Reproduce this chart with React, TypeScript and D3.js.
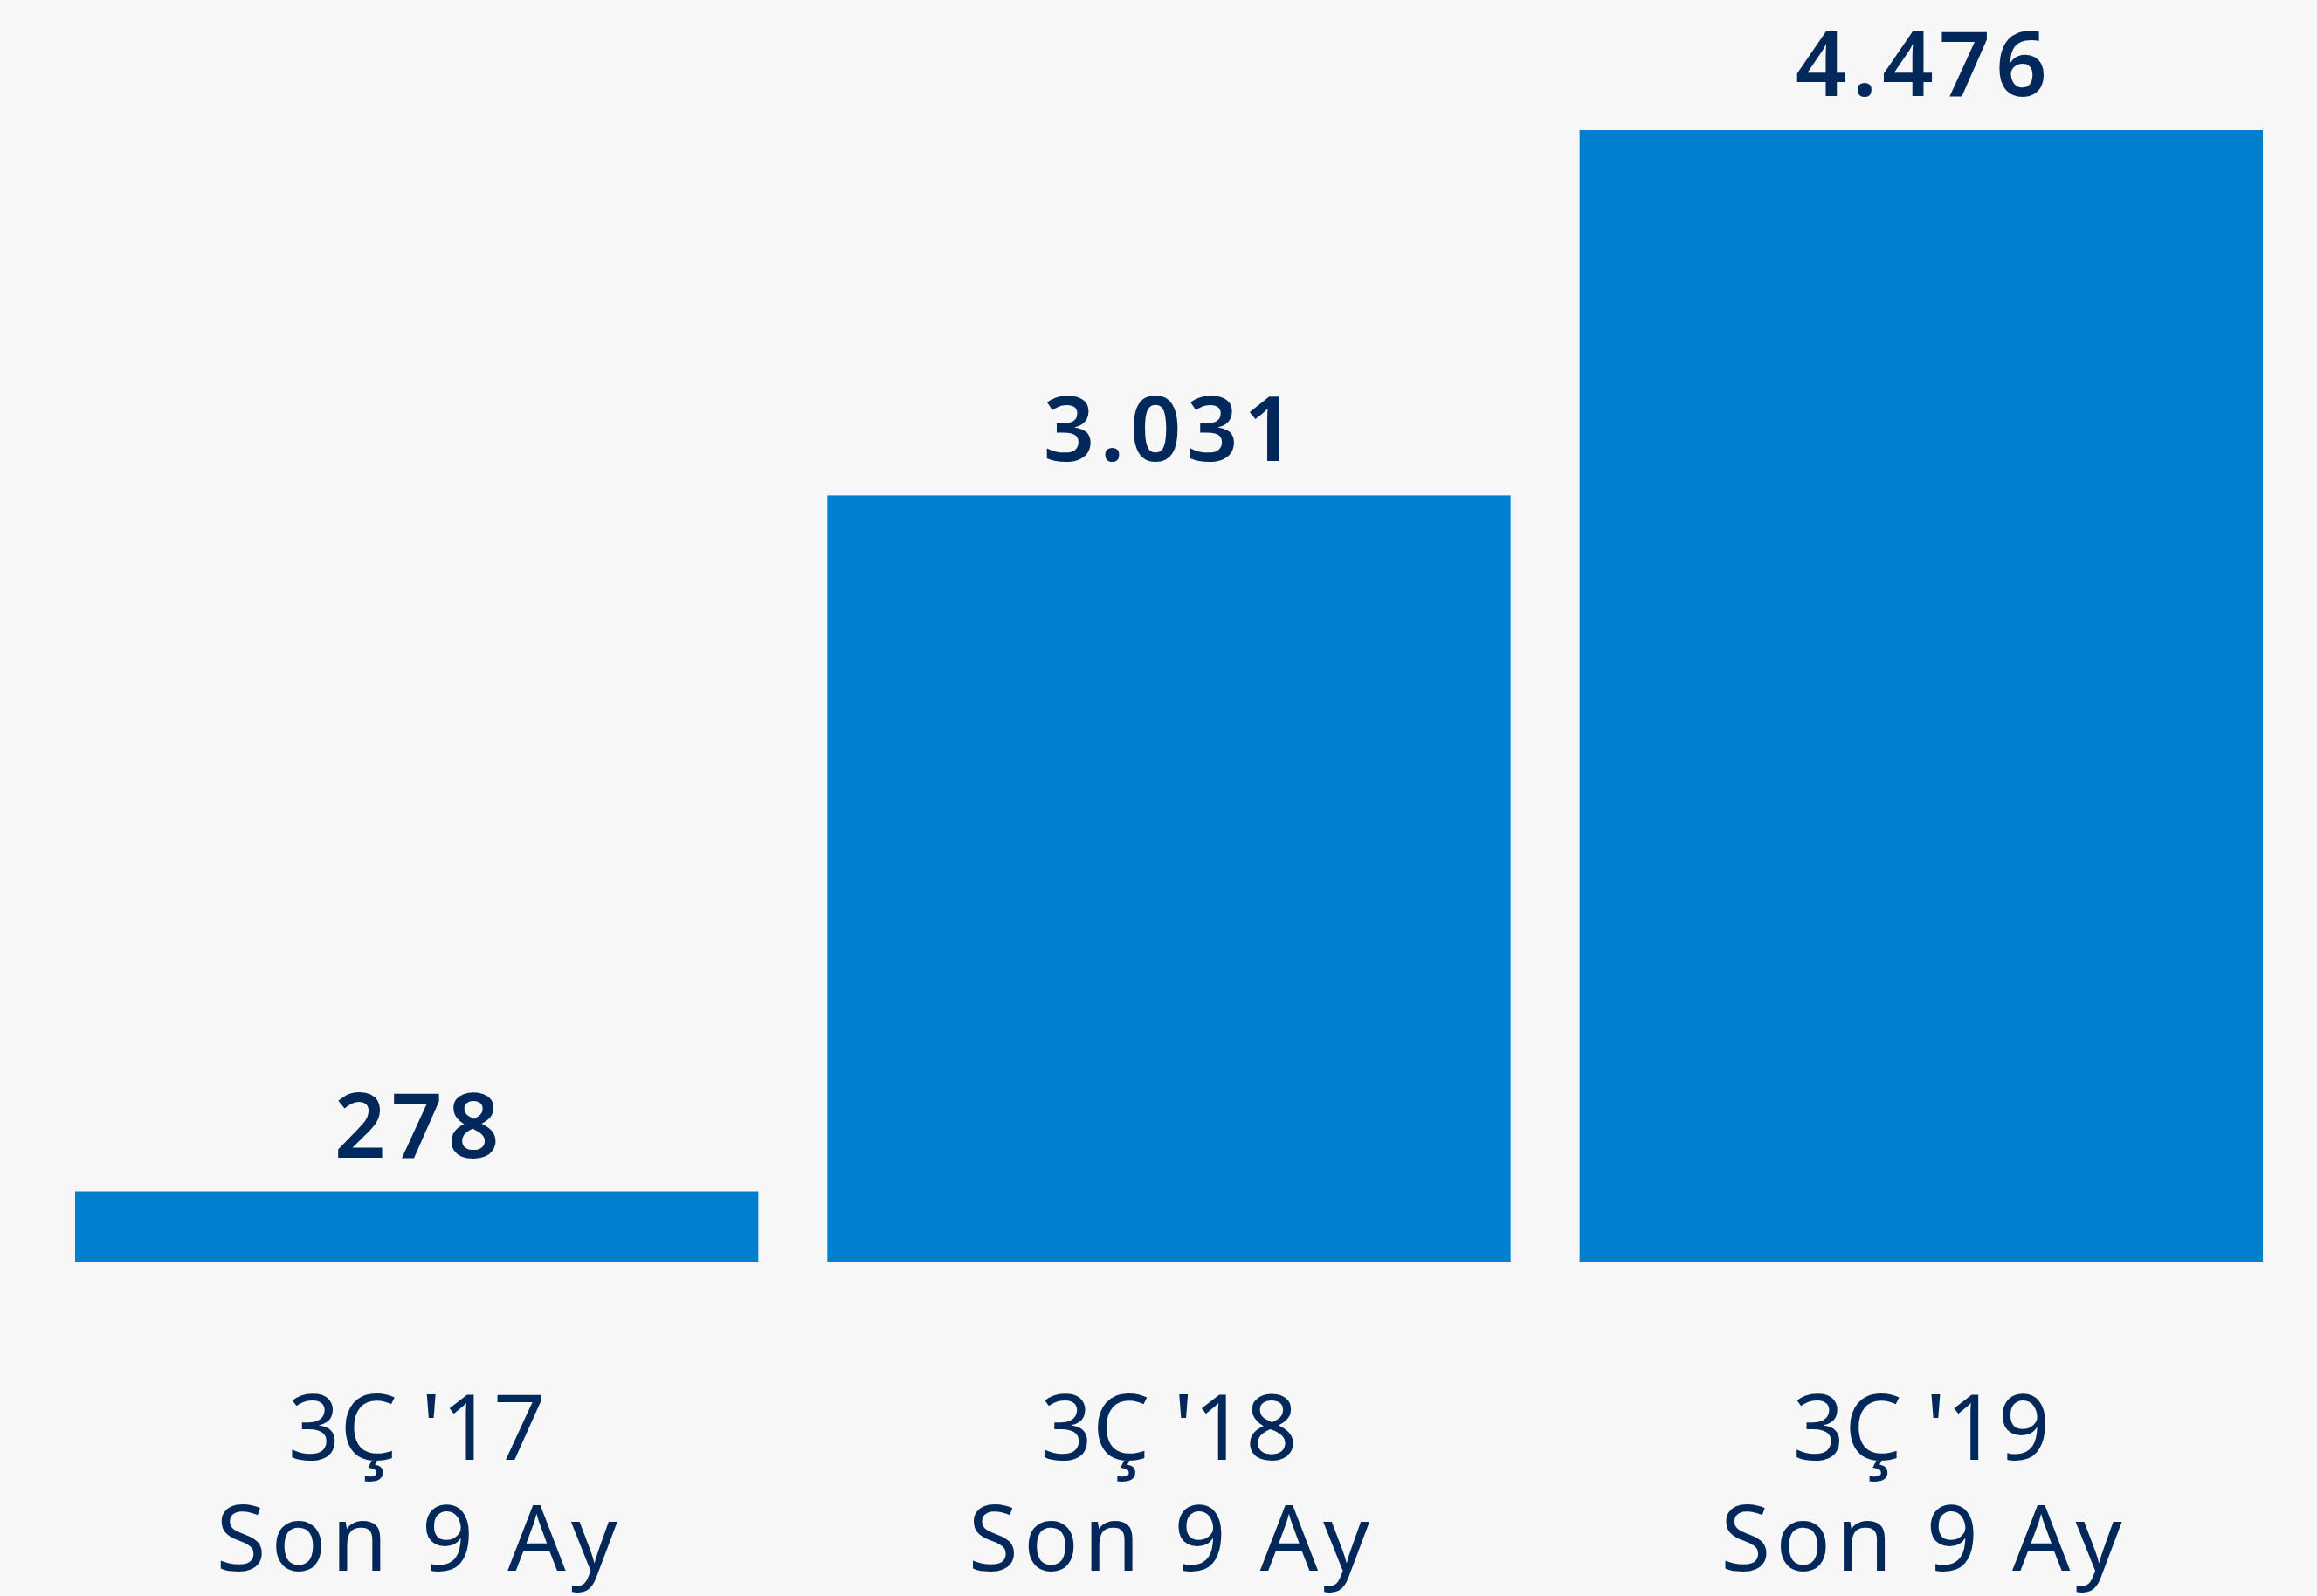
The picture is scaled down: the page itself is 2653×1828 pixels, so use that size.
import React, { useRef, useEffect } from "react";
import * as d3 from "d3";

const width = 2653;
const height = 1828;
const space = {
  marginLeft: 86,
  marginRight: 62,
  marginTop: 149,
  marginBottom: 383,
};

// chart values
const categories = ["3Ç '17", "3Ç '18", "3Ç '19"];
const subLabels = ["Son 9 Ay", "Son 9 Ay", "Son 9 Ay"];
const values = [278, 3031, 4476];

const barColor = "#007fce";
const textColor = "#00285a";
const background = "#f7f7f7";

const App = () => {
  const ref = useRef<SVGSVGElement | null>(null);

  useEffect(() => {
    document.body.style.margin = "0";
    document.body.style.background = background;

    const svg = d3
      .select(ref.current)
      .attr("width", width)
      .attr("height", height)
      .attr("viewBox", [0, 0, width, height].join(" "))
      .style("display", "block")
      .style("font-family", "'Noto Sans', sans-serif");

    svg.selectAll("*").remove();

    svg
      .append("rect")
      .attr("width", width)
      .attr("height", height)
      .attr("fill", background);

    const data = categories.map((c, i) => ({ cat: c, sub: subLabels[i], value: values[i] }));

    const x = d3
      .scaleBand()
      .domain(categories)
      .range([space.marginLeft, width - space.marginRight])
      .paddingInner(0.0917)
      .paddingOuter(0);

    const y = d3
      .scaleLinear()
      .domain([0, d3.max(values) as number])
      .range([height - space.marginBottom, space.marginTop]);

    svg
      .append("g")
      .selectAll("rect")
      .data(data)
      .join("rect")
      .attr("fill", barColor)
      .attr("x", (d) => x(d.cat) as number)
      .attr("y", (d) => y(d.value))
      .attr("width", x.bandwidth())
      .attr("height", (d) => y(0) - y(d.value));

    const format = (v: number) => d3.format(",d")(v).replace(/,/g, ".");
    const cx = (d: { cat: string }) => (x(d.cat) as number) + x.bandwidth() / 2;

    // value labels
    svg
      .append("g")
      .selectAll("text")
      .data(data)
      .join("text")
      .attr("x", (d) => cx(d) + 3)
      .attr("y", (d) => y(d.value) - 39)
      .attr("text-anchor", "middle")
      .attr("font-size", 103)
      .attr("font-weight", 600)
      .attr("letter-spacing", 6)
      .attr("fill", textColor)
      .text((d) => format(d.value));

    // category labels
    const labels = svg
      .append("g")
      .selectAll("text")
      .data(data)
      .join("text")
      .attr("text-anchor", "middle")
      .attr("font-size", 104)
      .attr("fill", textColor);

    labels
      .append("tspan")
      .attr("x", (d) => cx(d))
      .attr("y", y(0) + 227)
      .text((d) => d.cat);

    labels
      .append("tspan")
      .attr("x", (d) => cx(d) + 3)
      .attr("y", y(0) + 354)
      .attr("letter-spacing", 6)
      .text((d) => d.sub);
  }, []);

  return (
    <div>
      <svg ref={ref} />
    </div>
  );
};

export default App;
